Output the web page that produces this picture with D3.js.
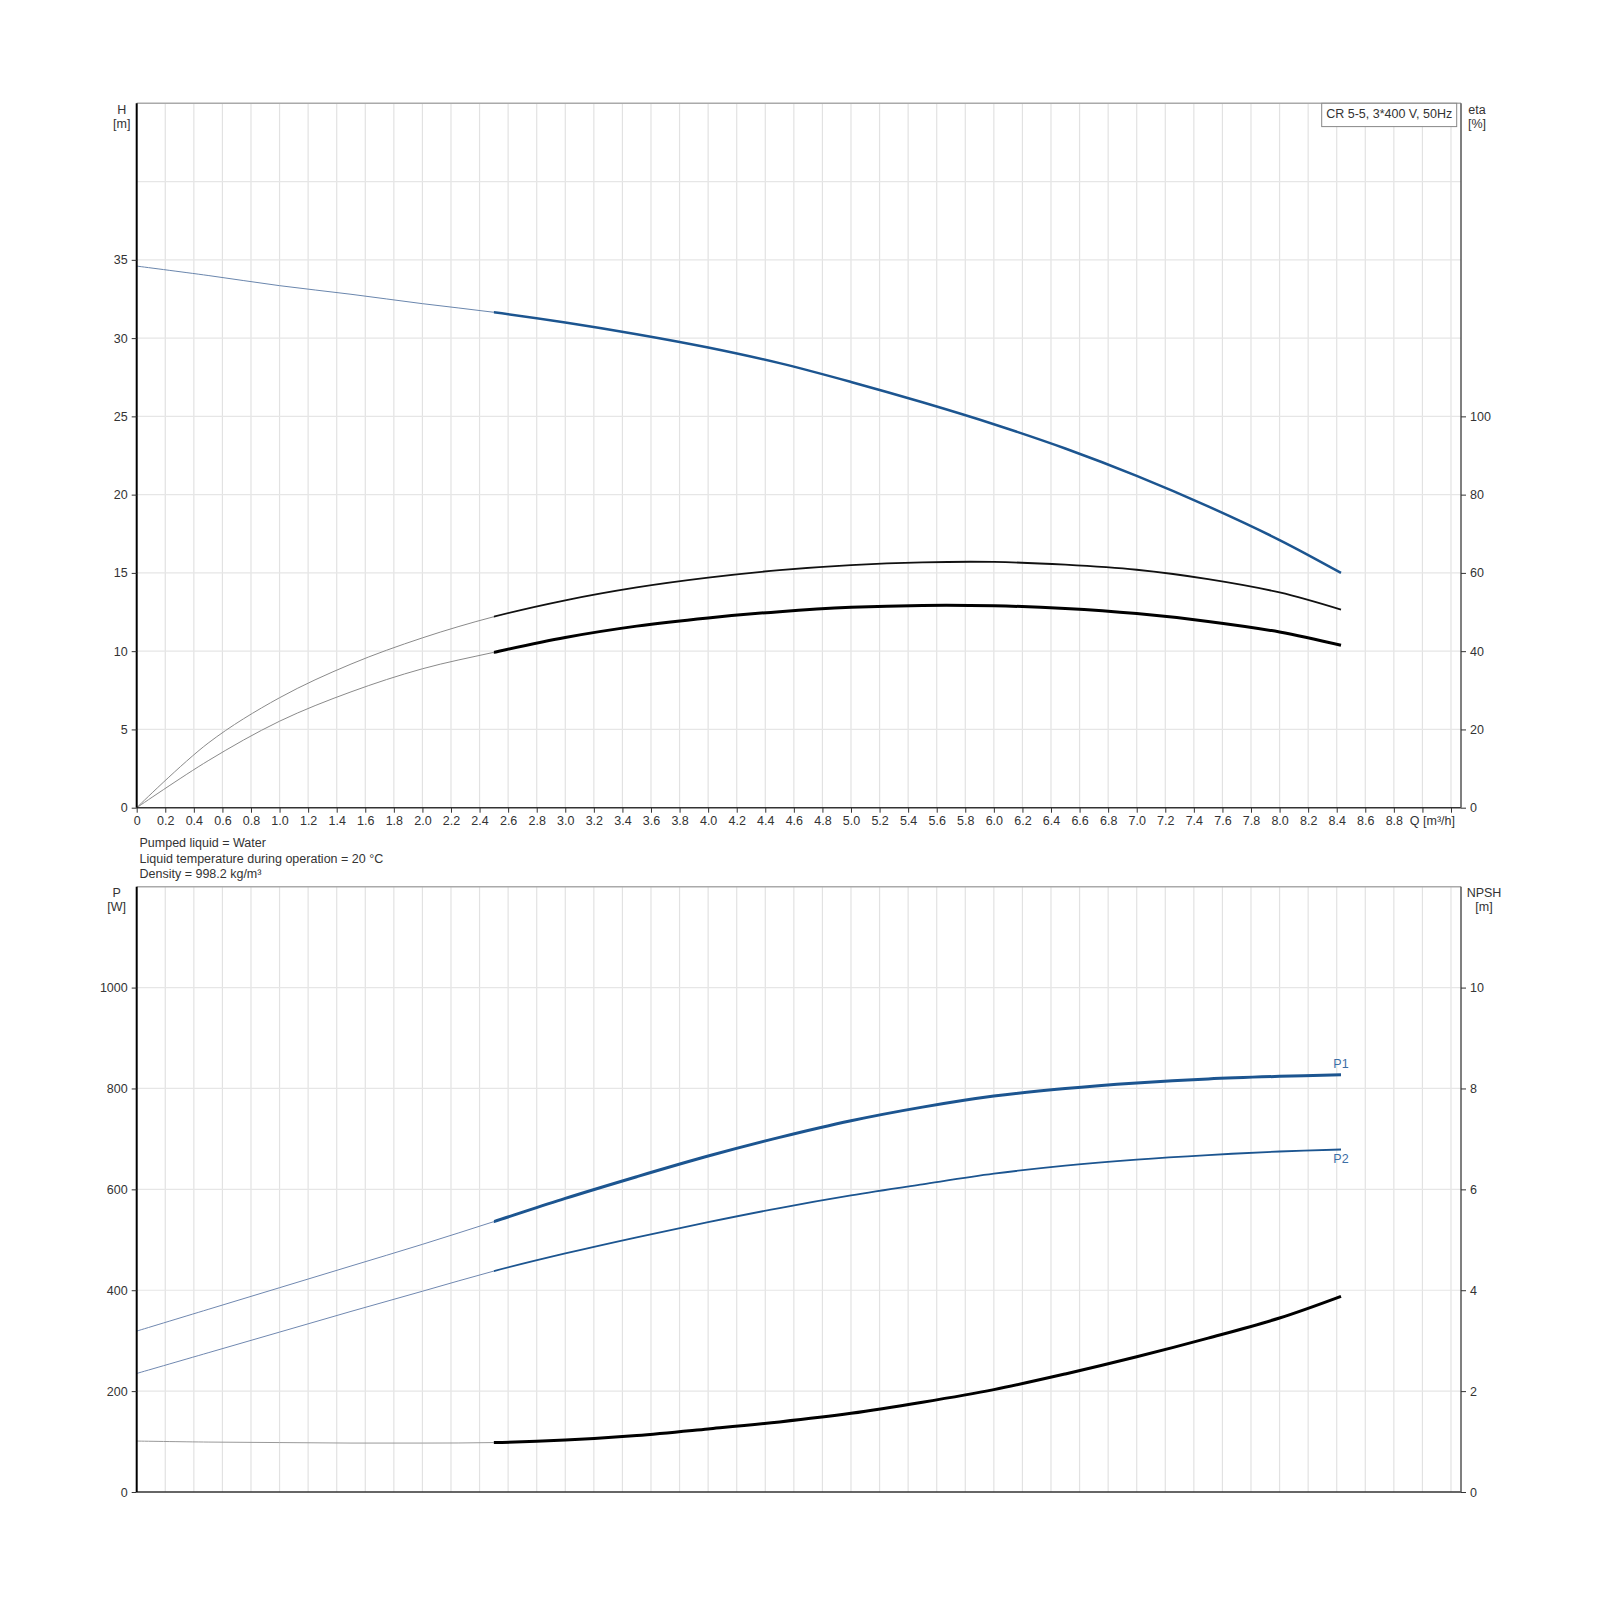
<!DOCTYPE html>
<html>
<head>
<meta charset="utf-8">
<script src="https://cdn.jsdelivr.net/npm/d3@7"></script>
<style>
  body { margin: 0; background: #fff; }
  text { font-family: "Liberation Sans", Arial, sans-serif; fill: #333; }
  .axis text { font-size: 12.5px; }
  .axis line { stroke: #333; }
</style>
</head>
<body>
<div id="chart"></div>
<script>
// flow points shared by all curves (m3/h)
const flow = [0, 0.5, 1.0, 1.5, 2.0, 2.5, 3.0, 3.5, 4.0, 4.5, 5.0, 5.5, 6.0, 6.5, 7.0, 7.5, 8.0, 8.43]
// head H [m]
const head = [34.6, 34.0, 33.35, 32.8, 32.2, 31.65, 31.0, 30.25, 29.4, 28.4, 27.2, 25.9, 24.5, 22.95, 21.2, 19.25, 17.1, 15.0]
// efficiencies [%]
const etaUpper = [0, 16.5, 28.1, 36.7, 43.4, 48.8, 53.0, 56.3, 58.8, 60.7, 62.0, 62.7, 62.8, 62.1, 60.8, 58.4, 55.0, 50.6]
const etaLower = [0, 12.0, 22.1, 29.6, 35.5, 39.7, 43.5, 46.4, 48.5, 50.1, 51.2, 51.7, 51.6, 50.9, 49.6, 47.6, 44.9, 41.5]
// power [W]
const powerP1 = [319, 362, 405, 448, 491, 536, 582, 625, 666, 703, 736, 763, 785, 800, 811, 819, 824, 827]
const powerP2 = [235, 276, 317, 358, 398, 438, 473, 505, 535, 563, 588, 610, 631, 647, 659, 668, 675, 679]
// NPSH [m]
const npsh = [1.01, 0.99, 0.98, 0.97, 0.97, 0.98, 1.03, 1.12, 1.25, 1.39, 1.56, 1.78, 2.03, 2.34, 2.68, 3.05, 3.45, 3.88]

const splitAt = 2.5
const qTicks = d3.range(0, 47).map(i => +(i * 0.2).toFixed(1))
const hTicks = [0, 5, 10, 15, 20, 25, 30, 35]
const etaTicks = [0, 20, 40, 60, 80, 100]
const pTicks = [0, 200, 400, 600, 800, 1000]
const npshTicks = [0, 2, 4, 6, 8, 10]
const infoLines = ["Pumped liquid = Water", "Liquid temperature during operation = 20 °C", "Density = 998.2 kg/m³"]
const title = "CR 5-5, 3*400 V, 50Hz"

const blue = "#1c5590"

const svg = d3.select("#chart")
    .append("svg")
    .attr("width", 1600)
    .attr("height", 1600)

const left = 136.7, right = 1461
const top1 = 103.3, bottom1 = 807.7
const top2 = 886.7, bottom2 = 1492

const x = d3.scaleLinear().domain([0, 9.27]).range([left, right])
const yH = d3.scaleLinear().domain([0, 45]).range([bottom1, top1])
const yEta = d3.scaleLinear().domain([0, 180]).range([bottom1, top1])
const yP = d3.scaleLinear().domain([0, 1200]).range([bottom2, top2])
const yN = d3.scaleLinear().domain([0, 12]).range([bottom2, top2])

// clip regions for thin (before 2.5) and thick (after) parts
const defs = svg.append("defs")
defs.append("clipPath").attr("id", "thin")
    .append("rect").attr("x", 0).attr("y", 0).attr("width", x(splitAt)).attr("height", 1600)
defs.append("clipPath").attr("id", "thick")
    .append("rect").attr("x", x(splitAt)).attr("y", 0).attr("width", 1600).attr("height", 1600)

function grid(yScale, yVals, top, bottom) {
    const g = svg.append("g").attr("class", "grid")
    g.selectAll(".v")
        .data(qTicks.filter(v => v > 0))
        .enter()
        .append("line")
        .attr("x1", d => x(d)).attr("x2", d => x(d))
        .attr("y1", top).attr("y2", bottom)
        .attr("stroke", "#e2e2e2")
        .attr("stroke-width", 1.2)
    g.selectAll(".h")
        .data(yVals)
        .enter()
        .append("line")
        .attr("x1", left).attr("x2", right)
        .attr("y1", d => yScale(d)).attr("y2", d => yScale(d))
        .attr("stroke", "#e6e6e6")
        .attr("stroke-width", 1.2)
}

grid(yH, [5, 10, 15, 20, 25, 30, 35, 40], top1, bottom1)
grid(yP, [200, 400, 600, 800, 1000], top2, bottom2)

function curve(yScale, values, thinColor, thickColor, thickWidth) {
    const pts = flow.map((q, i) => [q, values[i]])
    const line = d3.line()
        .x(d => x(d[0]))
        .y(d => yScale(d[1]))
        .curve(d3.curveCatmullRom)
    svg.append("path")
        .attr("d", line(pts))
        .attr("clip-path", "url(#thin)")
        .attr("fill", "none")
        .attr("stroke", thinColor)
        .attr("stroke-width", 1)
    svg.append("path")
        .attr("d", line(pts))
        .attr("clip-path", "url(#thick)")
        .attr("fill", "none")
        .attr("stroke", thickColor)
        .attr("stroke-width", thickWidth)
}

curve(yH, head, "#6a86ad", blue, 2.5)
curve(yEta, etaUpper, "#8a8a8a", "#111", 1.8)
curve(yEta, etaLower, "#8a8a8a", "#000", 3)
curve(yP, powerP1, "#7088b0", blue, 3)
curve(yP, powerP2, "#7088b0", blue, 1.8)
curve(yN, npsh, "#999", "#000", 3)

// frames
function frame(top, bottom) {
    svg.append("line").attr("x1", left).attr("x2", right).attr("y1", top).attr("y2", top)
        .attr("stroke", "#aaa").attr("stroke-width", 1.5)
    svg.append("line").attr("x1", left).attr("x2", right).attr("y1", bottom).attr("y2", bottom)
        .attr("stroke", "#333").attr("stroke-width", 1.5)
    svg.append("line").attr("x1", right).attr("x2", right).attr("y1", top).attr("y2", bottom)
        .attr("stroke", "#555").attr("stroke-width", 1.5)
    svg.append("line").attr("x1", left).attr("x2", left).attr("y1", top).attr("y2", bottom)
        .attr("stroke", "#000").attr("stroke-width", 2)
}
frame(top1, bottom1)
frame(top2, bottom2)

function axis(gen, tx, ty) {
    const g = svg.append("g")
        .attr("class", "axis")
        .attr("transform", "translate(" + tx + "," + ty + ")")
        .call(gen)
    g.select(".domain").remove()
    return g
}

axis(d3.axisLeft(yH).tickValues(hTicks).tickSize(5).tickPadding(4), left, 0)
axis(d3.axisRight(yEta).tickValues(etaTicks).tickSize(5).tickPadding(4), right, 0)
axis(d3.axisLeft(yP).tickValues(pTicks).tickSize(5).tickPadding(4).tickFormat(d3.format("d")), left, 0)
axis(d3.axisRight(yN).tickValues(npshTicks).tickSize(5).tickPadding(4), right, 0)

axis(d3.axisBottom(x).tickValues(qTicks).tickSize(5).tickPadding(3)
    .tickFormat(d => d > 8.8 ? "" : (d === 0 ? "0" : d.toFixed(1))), 0, bottom1)

svg.append("text")
    .attr("x", 1455)
    .attr("y", bottom1 + 17)
    .attr("text-anchor", "end")
    .style("font-size", "12.5px")
    .text("Q [m³/h]")

// axis titles
const unitLabels = [
    { x: 121.7, y: top1 + 11, t: ["H", "[m]"] },
    { x: 1477, y: top1 + 11, t: ["eta", "[%]"] },
    { x: 116.7, y: top2 + 10, t: ["P", "[W]"] },
    { x: 1484, y: top2 + 10, t: ["NPSH", "[m]"] }
]
unitLabels.forEach(u => {
    u.t.forEach((s, i) => {
        svg.append("text")
            .attr("x", u.x)
            .attr("y", u.y + i * 14)
            .attr("text-anchor", "middle")
            .style("font-size", "12.5px")
            .text(s)
    })
})

// info text
svg.selectAll(".info")
    .data(infoLines)
    .enter()
    .append("text")
    .attr("x", 139.5)
    .attr("y", (d, i) => 847 + i * 15.5)
    .style("font-size", "12.5px")
    .text(d => d)

// title box
svg.append("rect")
    .attr("x", 1321.7)
    .attr("y", top1)
    .attr("width", 135)
    .attr("height", 23.3)
    .attr("fill", "#fff")
    .attr("stroke", "#888")
svg.append("text")
    .attr("x", 1389.2)
    .attr("y", top1 + 14.5)
    .attr("text-anchor", "middle")
    .style("font-size", "12.5px")
    .text(title)

// curve labels
const last = flow.length - 1
svg.append("text")
    .attr("x", x(flow[last]))
    .attr("y", yP(powerP1[last]) - 7)
    .attr("text-anchor", "middle")
    .style("font-size", "12.5px")
    .style("fill", "#3b6ea5")
    .text("P1")
svg.append("text")
    .attr("x", x(flow[last]))
    .attr("y", yP(powerP2[last]) + 13)
    .attr("text-anchor", "middle")
    .style("font-size", "12.5px")
    .style("fill", "#3b6ea5")
    .text("P2")
</script>
</body>
</html>
